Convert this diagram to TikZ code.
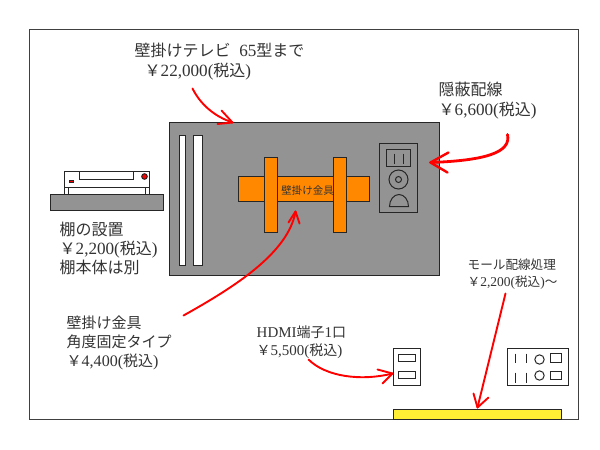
\documentclass[tikz,border=0pt]{standalone}
\usepackage{fontspec}
\setmainfont[Scale=1.07]{Liberation Serif}
\newfontfamily\cjk{Noto Sans CJK JP}
\newcommand\J[1]{{\cjk #1}}
\definecolor{panel}{HTML}{939393}
\definecolor{orangeb}{HTML}{FF8800}
\definecolor{yellowb}{HTML}{FFEE33}
\definecolor{ink}{HTML}{333333}
\definecolor{redl}{HTML}{FF0000}
\tikzset{
 box/.style={draw=black!85,line width=1pt},
 gray box/.style={box,fill=panel},
 white box/.style={box,fill=white},
 orange box/.style={box,fill=orangeb},
 thin line/.style={draw=black!85,line width=0.9pt},
 label/.style={anchor=west,inner sep=0pt,align=left,text=ink},
 redarrow/.style={draw=redl,line width=1.9pt,line cap=round,line join=round},
}
\begin{document}
\begin{tikzpicture}[x=1pt,y=-1pt]
\useasboundingbox (0,0) rectangle (600,450);
\fill[white] (0,0) rectangle (600,450);
\begin{scope}[shift={(0.5,0.5)}]
% frame and yellow band
\draw[line width=1.2pt,draw=black!75] (29,29) rectangle (578,419);
\draw[box,fill=yellowb] (393,409) rectangle (561,419);
% wall panel
\draw[gray box] (169,122) rectangle (438.5,275);
\draw[white box] (179,135) rectangle (185,265);
\draw[white box] (193,135) rectangle (202,265);
\draw[orange box] (238,176) rectangle (369,201);
\draw[orange box] (264,157) rectangle (277,232);
\draw[orange box] (333,157) rectangle (346,232);
\node[inner sep=0pt,text=black!80,font=\fontsize{10.5}{12}\selectfont] (bracketlabel) at (307,190) {\J{壁掛け金具}};
% outlet
\draw[box] (378.5,143) rectangle (416.5,212);
\draw[box] (386,149) rectangle (410,166);
\draw[thin line] (394,153) -- (394,163) (403,153) -- (403,163);
\draw[box] (398,179) circle (9.5);
\draw[box] (398,179) circle (3);
\draw[box] (389,206) -- (408,206) arc (0:-180:9.5 and 12) -- cycle;
% shelf and device
\draw[gray box] (50,194) rectangle (163,210);
\draw[white box] (64,171) rectangle (149,187);
\draw[box] (79,171) -- (79,179) -- (133,179) -- (133,171);
\draw[box,fill=redl] (68.5,179.5) rectangle (73,182);
\draw[box,fill=redl] (144,176) circle (2.8);
\draw[box] (64,187) -- (64,194) (68,187) -- (68,194) (145,187) -- (145,194) (149,187) -- (149,194);
% plates
\draw[box] (393,348) rectangle (420,385);
\draw[box] (398,354) rectangle (415,361);
\draw[box] (398,371) rectangle (415,378);
\draw[box] (507,348) rectangle (568,385);
\draw[thin line] (515,353) -- (515,362) (526,353) -- (526,362) (515,372) -- (515,382) (526,372) -- (526,382);
\draw[box] (539,359) circle (4.7);
\draw[box] (539,375) circle (4.7);
\draw[box] (550,353) rectangle (561,362);
\draw[box] (550,371) rectangle (561,379);
% labels
\node[label,font=\fontsize{16}{20}\selectfont] (tv) at (134,61) {\J{壁掛けテレビ}\ \ 65\J{型まで}\\\hspace{10pt}\J{￥}22,000(\J{税込})};
\node[label,font=\fontsize{16}{20}\selectfont] (hidden) at (438,100) {\J{隠蔽配線}\\\J{￥}6,600(\J{税込})};
\node[label,font=\fontsize{16}{19}\selectfont] (shelf) at (59,248) {\J{棚の設置}\\\J{￥}2,200(\J{税込})\\\J{棚本体は別}};
\node[label,font=\fontsize{15}{19}\selectfont] (mount) at (66,342) {\J{壁掛け金具}\\\J{角度固定タイプ}\\\J{￥}4,400(\J{税込})};
\node[label,font=\fontsize{14}{18}\selectfont] (hdmi) at (256,342) {HDMI\J{端子}1\J{口}\\\J{￥}5,500(\J{税込})};
\node[label,font=\fontsize{12.6}{17}\selectfont] (mole) at (467,273.5) {\J{モール配線処理}\\\J{￥}2,200(\J{税込})\J{～}};
% connectors
\coordinate (a1s) at (192,88); \coordinate (a1e) at (232,122);
\coordinate (a2s) at (507,134); \coordinate (a2e) at (430,162);
\coordinate (a3s) at (505,293); \coordinate (a3e) at (477,407);
\coordinate (a4s) at (308,359); \coordinate (a4e) at (392,373);
\coordinate (a5s) at (183,315); \coordinate (a5e) at (295,211);
\draw[redarrow] (a1s) .. controls (200,104) and (214,116) .. (a1e);
\draw[redarrow] (221,110) -- (a1e) -- (217,123.5);
\draw[redarrow,line width=2.8pt] (a2s) .. controls (511,152) and (485,160) .. (a2e);
\draw[redarrow,line width=2.4pt] (448,152) -- (a2e) -- (447,172);
\draw[redarrow] (a3s) -- (a3e);
\draw[redarrow] (473,393) -- (a3e) -- (488,397);
\draw[redarrow] (a4s) .. controls (325,376) and (360,381) .. (a4e);
\draw[redarrow] (377,369) -- (a4e) -- (382,383);
\draw[redarrow] (a5s) .. controls (235,286) and (288,252) .. (a5e);
\draw[redarrow] (288,222) -- (a5e) -- (299,223);
\end{scope}
\end{tikzpicture}
\end{document}
